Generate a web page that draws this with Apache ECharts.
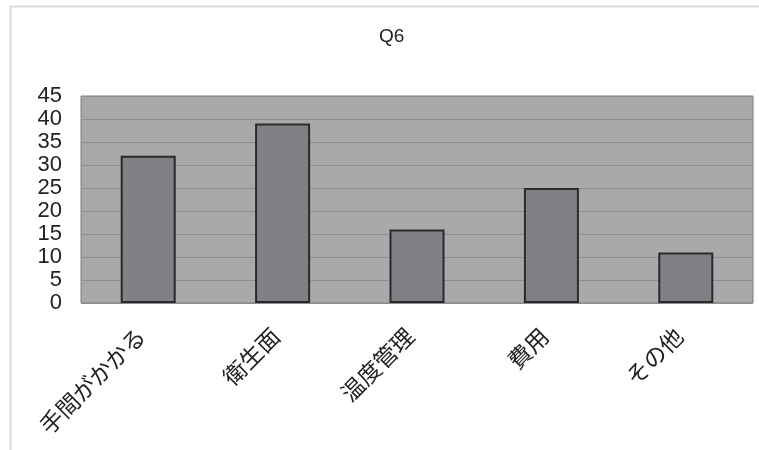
<!DOCTYPE html>
<html>
<head>
<meta charset="utf-8">
<script src="https://cdn.jsdelivr.net/npm/echarts@6/dist/echarts.min.js"></script>
<style>
  html, body { margin: 0; padding: 0; background: #fff; }
  #chart { width: 759px; height: 450px; }
</style>
</head>
<body>
<div id="chart"></div>
<script>
// Q6 回答数
const categories = ['手間がかかる', '衛生面', '温度管理', '費用', 'その他'];
const counts = [32, 39, 16, 25, 11];
const yTicks = [0, 5, 10, 15, 20, 25, 30, 35, 40, 45];

const chart = echarts.init(document.getElementById('chart'));

const option = {
  animation: false,
  title: {
    text: 'Q6',
    left: 374,
    top: 22,
    textStyle: { fontFamily: 'Liberation Sans, Arial', fontSize: 19, fontWeight: 'normal', color: '#222' }
  },
  // 外枠
  graphic: [{
    type: 'rect',
    shape: { x: 10.5, y: 6.5, width: 760, height: 460 },
    style: { fill: 'none', stroke: '#dcdcdc', lineWidth: 2 },
    silent: true
  }],
  grid: {
    left: 81,
    right: 6,
    top: 96,
    bottom: 147,
    show: true,
    backgroundColor: '#a9a9a9',
    borderColor: '#7c7c7c',
    borderWidth: 1
  },
  xAxis: {
    type: 'category',
    data: categories,
    axisLine: { show: false },
    axisTick: { show: false },
    axisLabel: {
      rotate: 45,
      margin: 22,
      padding: [0, 10, 0, 0],
      fontFamily: 'Noto Sans CJK JP',
      fontSize: 23,
      color: '#222'
    }
  },
  yAxis: {
    type: 'value',
    min: yTicks[0],
    max: yTicks[yTicks.length - 1],
    interval: 5,
    axisLine: { show: false },
    axisTick: { show: false },
    splitLine: { lineStyle: { color: '#8e8e8e', width: 1 } },
    axisLabel: {
      margin: 19,
      fontFamily: 'Liberation Sans, Arial',
      fontSize: 22,
      color: '#222',
      lineHeight: 22
    }
  },
  series: [{
    type: 'bar',
    data: counts,
    barWidth: 55,
    itemStyle: { color: '#808087', borderColor: '#2a2a2a', borderWidth: 2 }
  }]
};

chart.setOption(option);
</script>
</body>
</html>
